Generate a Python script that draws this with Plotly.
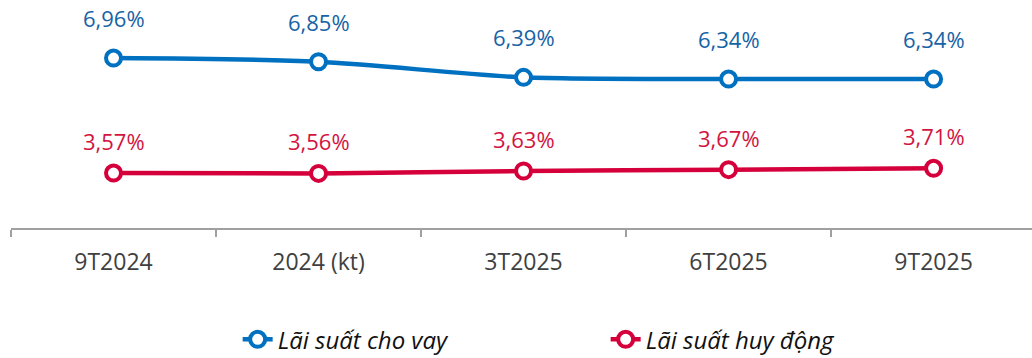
import plotly.graph_objects as go

# Chart data
categories = ["9T2024", "2024 (kt)", "3T2025", "6T2025", "9T2025"]
lending_rate = [6.96, 6.85, 6.39, 6.34, 6.34]
deposit_rate = [3.57, 3.56, 3.63, 3.67, 3.71]
series_names = ["Lãi suất cho vay", "Lãi suất huy động"]

BLUE_LINE = "#0070c0"
BLUE_TEXT = "#1763a6"
RED_LINE = "#d5003b"
RED_TEXT = "#d3143f"
FONT = "Open Sans"


def fmt(v):
    return f"{v:.2f}".replace(".", ",") + "%"


fig = go.Figure()
for name, values, color in [
    (series_names[0], lending_rate, BLUE_LINE),
    (series_names[1], deposit_rate, RED_LINE),
]:
    fig.add_trace(go.Scatter(
        x=categories, y=values, name=name,
        mode="lines+markers",
        line=dict(color=color, width=4.5, shape="spline", smoothing=0.8),
        marker=dict(symbol="circle", size=15, color="white",
                    line=dict(color=color, width=4)),
        cliponaxis=False,
    ))

# Value labels above each point
for values, color, shift in [(lending_rate, BLUE_TEXT, 40), (deposit_rate, RED_TEXT, 32)]:
    for c, v in zip(categories, values):
        fig.add_annotation(
            x=c, y=v, text=fmt(v), showarrow=False, yshift=shift,
            font=dict(family=FONT, size=22, color=color),
        )

fig.update_layout(
    width=1032, height=358,
    margin=dict(l=11, r=0, t=0, b=130, autoexpand=False),
    paper_bgcolor="white", plot_bgcolor="white",
    showlegend=True,
    legend=dict(
        orientation="h", x=0.222, xanchor="left", y=-0.49, yanchor="middle",
        font=dict(family=FONT, size=24, color="#111111", style="italic"),
        entrywidth=323, entrywidthmode="pixels",
        bgcolor="rgba(0,0,0,0)",
    ),
    xaxis=dict(
        type="category", range=[-0.5, 4.48],
        showline=True, linecolor="#a0a0a0", linewidth=1.5,
        ticks="outside", tickson="boundaries", ticklen=7,
        tickcolor="#a0a0a0", tickwidth=1.5,
        showgrid=False, zeroline=False,
        tickfont=dict(family=FONT, size=23, color="#404040"),
        ticklabelstandoff=13,
    ),
    yaxis=dict(range=[1.95, 8.67], visible=False, showgrid=False),
)

fig.write_html("out.html")
